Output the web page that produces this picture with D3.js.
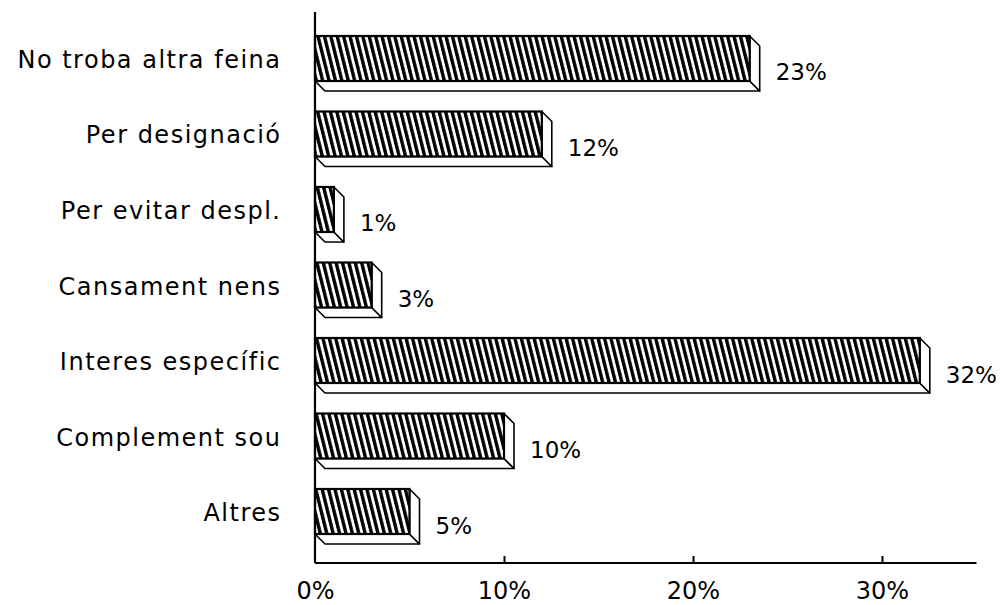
<!DOCTYPE html>
<html>
<head>
<meta charset="utf-8">
<script src="https://cdn.jsdelivr.net/npm/d3@7"></script>
<style>
  html, body { margin: 0; padding: 0; background: #fff; }
  svg { display: block; }
  text { font-family: "DejaVu Sans", "Liberation Sans", sans-serif; fill: #000; }
</style>
</head>
<body>
<svg id="chart" width="1005" height="605"></svg>
<script>
// Motius (percentatge de respostes)
const categories = [
  "No troba altra feina",
  "Per designació",
  "Per evitar despl.",
  "Cansament nens",
  "Interes específic",
  "Complement sou",
  "Altres"
];
const values = [23, 12, 1, 3, 32, 10, 5];
const tickValues = [0, 10, 20, 30];
const tickLabels = ["0%", "10%", "20%", "30%"];

const svg = d3.select("#chart");
const depth = 10;

const x = d3.scaleLinear().domain([0, 35]).range([315, 976.5]);
const y = d3.scaleBand().domain(categories).range([36, 534]).paddingInner(0.404).paddingOuter(0);
const bw = y.bandwidth();

// diagonal hatch fill
const defs = svg.append("defs");
const pat = defs.append("pattern")
  .attr("id", "hatch")
  .attr("patternUnits", "userSpaceOnUse")
  .attr("width", 6.4).attr("height", 20)
  .attr("patternTransform", "skewX(14)");
pat.append("rect").attr("width", 6.4).attr("height", 20).attr("fill", "#fff");
pat.append("rect").attr("x", 0).attr("width", 3.5).attr("height", 20).attr("fill", "#000");

const data = categories.map((c, i) => ({ c, v: values[i] }));

const bars = svg.append("g").selectAll("g").data(data).join("g");

// bottom face
bars.append("path")
  .attr("d", d => {
    const x0 = x(0), x1 = x(d.v), yb = y(d.c) + bw;
    return `M${x0},${yb} L${x1},${yb} L${x1 + depth},${yb + depth} L${x0 + depth},${yb + depth} Z`;
  })
  .attr("fill", "#fff").attr("stroke", "#000").attr("stroke-width", 1.6)
  .attr("stroke-linejoin", "round");

// side face
bars.append("path")
  .attr("d", d => {
    const x1 = x(d.v), yt = y(d.c), yb = yt + bw;
    return `M${x1},${yt} L${x1 + depth},${yt + depth} L${x1 + depth},${yb + depth} L${x1},${yb} Z`;
  })
  .attr("fill", "#fff").attr("stroke", "#000").attr("stroke-width", 1.6)
  .attr("stroke-linejoin", "round");

// front face
bars.append("rect")
  .attr("x", x(0))
  .attr("y", d => y(d.c))
  .attr("width", d => x(d.v) - x(0))
  .attr("height", bw)
  .attr("fill", "url(#hatch)")
  .attr("stroke", "#000").attr("stroke-width", 2.2);

// value labels
bars.append("text")
  .attr("x", d => x(d.v) + depth + 16)
  .attr("y", d => y(d.c) + bw / 2 + 22)
  .attr("font-size", 23)
  .text(d => d.v + "%");

// category labels
svg.append("g").selectAll("text").data(categories).join("text")
  .attr("x", 281.5)
  .attr("y", d => y(d) + bw / 2 + 9.5)
  .attr("text-anchor", "end")
  .attr("font-size", 24)
  .attr("letter-spacing", 1.5)
  .text(d => d);

// axes
const baseY = 563;
svg.append("line")
  .attr("x1", x(0)).attr("x2", x(0))
  .attr("y1", 12).attr("y2", baseY)
  .attr("stroke", "#000").attr("stroke-width", 2.2);

const xAxis = d3.axisBottom(x)
  .tickValues(tickValues)
  .tickSize(0)
  .tickFormat((d, i) => tickLabels[i]);
const gx = svg.append("g").attr("transform", `translate(0,${baseY})`).call(xAxis);
gx.select(".domain").attr("stroke", "#000").attr("stroke-width", 2)
  .attr("d", `M${x(0)},0H${x.range()[1]}`);
gx.selectAll(".tick line").attr("y1", 0).attr("y2", d => d === 0 ? 0 : -7)
  .attr("stroke", "#000").attr("stroke-width", 2);
gx.selectAll(".tick text")
  .attr("y", 36).attr("dy", 0)
  .attr("font-size", 24)
  .attr("font-family", "DejaVu Sans, Liberation Sans, sans-serif")
  .attr("fill", "#000");
</script>
</body>
</html>
